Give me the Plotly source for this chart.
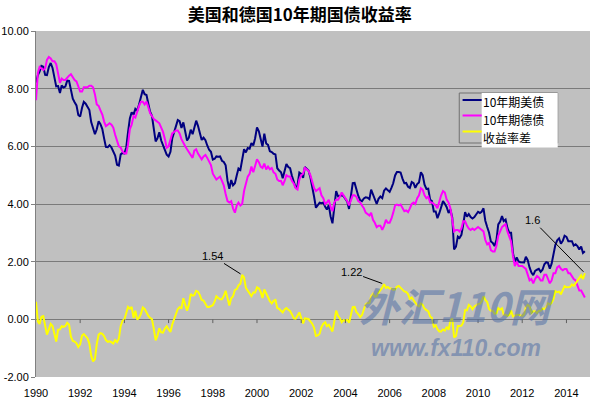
import pandas as pd
import plotly.graph_objects as go

# ---------------- data (monthly, Jan 1990 - Nov 2014) ----------------
start_month = "1990-01-01"

us_yield = [
    8.21, 8.47, 8.59, 8.79, 8.76, 8.48, 8.47, 8.75, 8.89, 8.72, 8.39, 8.08,
    8.09, 7.85, 8.11, 8.04, 8.07, 8.28, 8.27, 7.90, 7.65, 7.53, 7.42, 7.09,
    7.03, 7.34, 7.54, 7.48, 7.39, 7.26, 6.84, 6.59, 6.42, 6.59, 6.87, 6.77,
    6.60, 6.26, 5.98, 5.97, 6.04, 5.96, 5.81, 5.68, 5.36, 5.33, 5.72, 5.77,
    5.75, 5.97, 6.48, 6.97, 7.18, 7.10, 7.30, 7.24, 7.46, 7.74, 7.96, 7.81,
    7.78, 7.47, 7.20, 7.06, 6.63, 6.17, 6.28, 6.49, 6.20, 6.04, 5.93, 5.71,
    5.65, 5.81, 6.27, 6.51, 6.74, 6.91, 6.87, 6.64, 6.83, 6.53, 6.20, 6.30,
    6.58, 6.42, 6.69, 6.89, 6.71, 6.49, 6.22, 6.30, 6.21, 6.03, 5.88, 5.81,
    5.54, 5.57, 5.65, 5.64, 5.65, 5.50, 5.46, 5.34, 4.81, 4.53, 4.83, 4.65,
    4.72, 5.00, 5.23, 5.18, 5.54, 5.90, 5.79, 5.94, 5.92, 6.11, 6.03, 6.28,
    6.66, 6.52, 6.26, 5.99, 6.44, 6.10, 6.05, 5.83, 5.80, 5.74, 5.72, 5.24,
    5.16, 5.10, 4.89, 5.14, 5.39, 5.28, 5.24, 4.97, 4.73, 4.57, 4.65, 5.09,
    5.04, 4.91, 5.28, 5.21, 5.16, 4.93, 4.65, 4.26, 3.87, 3.94, 4.05, 4.03,
    4.05, 3.90, 3.81, 3.96, 3.57, 3.33, 3.98, 4.45, 4.27, 4.29, 4.30, 4.27,
    4.15, 4.08, 3.83, 4.35, 4.72, 4.73, 4.50, 4.28, 4.13, 4.10, 4.19, 4.23,
    4.22, 4.17, 4.50, 4.34, 4.14, 4.00, 4.18, 4.26, 4.20, 4.46, 4.54, 4.47,
    4.42, 4.57, 4.72, 4.99, 5.11, 5.11, 5.09, 4.88, 4.72, 4.73, 4.60, 4.56,
    4.76, 4.72, 4.56, 4.69, 4.75, 5.10, 5.00, 4.67, 4.52, 4.53, 4.15, 4.10,
    3.74, 3.74, 3.51, 3.68, 3.88, 4.10, 4.01, 3.89, 3.69, 3.81, 3.53, 2.42,
    2.52, 2.87, 2.82, 2.93, 3.29, 3.72, 3.56, 3.65, 3.55, 3.50, 3.55, 3.65,
    3.73, 3.69, 3.73, 3.85, 3.42, 3.20, 3.01, 2.70, 2.65, 2.54, 2.76, 3.29,
    3.39, 3.58, 3.41, 3.46, 3.17, 3.00, 3.00, 2.30, 1.98, 2.15, 2.01, 1.98,
    1.97, 1.97, 2.17, 2.05, 1.80, 1.62, 1.53, 1.68, 1.72, 1.75, 1.65, 1.72,
    1.91, 1.98, 1.96, 1.76, 1.93, 2.30, 2.58, 2.74, 2.81, 2.62, 2.72, 2.90,
    2.86, 2.71, 2.72, 2.71, 2.56, 2.60, 2.54, 2.42, 2.53, 2.30, 2.36,
]

de_yield = [
    7.60, 8.55, 8.75, 8.70, 8.65, 8.70, 9.00, 9.10, 9.05, 8.95, 8.95, 8.85,
    8.45, 8.20, 8.35, 8.30, 8.30, 8.40, 8.45, 8.50, 8.40, 8.30, 8.25, 8.05,
    7.90, 7.90, 8.05, 8.05, 8.05, 8.10, 8.10, 8.05, 7.80, 7.45, 7.40, 7.25,
    7.10, 6.85, 6.70, 6.75, 6.80, 6.75, 6.65, 6.40, 6.15, 6.00, 5.95, 5.82,
    5.75, 5.75, 6.05, 6.60, 6.75, 7.05, 7.00, 7.25, 7.40, 7.55, 7.55, 7.45,
    7.55, 7.35, 7.15, 7.05, 6.95, 6.90, 6.85, 6.80, 6.65, 6.50, 6.25, 5.95,
    6.00, 6.25, 6.45, 6.50, 6.55, 6.55, 6.45, 6.25, 6.10, 6.00, 5.90, 5.80,
    5.70, 5.60, 5.85, 5.90, 5.75, 5.65, 5.55, 5.65, 5.70, 5.60, 5.45, 5.35,
    5.05, 4.95, 4.85, 4.90, 4.95, 4.80, 4.65, 4.35, 4.10, 4.05, 4.10, 3.85,
    3.70, 3.95, 4.05, 3.95, 4.00, 4.45, 4.70, 4.95, 5.05, 5.30, 5.10, 5.35,
    5.55, 5.45, 5.30, 5.25, 5.40, 5.20, 5.30, 5.20, 5.25, 5.10, 5.05, 4.85,
    4.80, 4.80, 4.65, 4.80, 5.00, 4.95, 4.95, 4.80, 4.70, 4.55, 4.50, 4.85,
    5.00, 5.05, 5.25, 5.20, 5.15, 5.00, 4.80, 4.55, 4.45, 4.50, 4.55, 4.30,
    4.20, 4.00, 4.05, 4.15, 3.90, 3.75, 4.05, 4.15, 4.15, 4.25, 4.40, 4.30,
    4.20, 4.10, 3.95, 4.15, 4.30, 4.30, 4.25, 4.10, 4.05, 3.95, 3.85, 3.70,
    3.65, 3.60, 3.70, 3.45, 3.35, 3.20, 3.25, 3.25, 3.10, 3.24, 3.45, 3.35,
    3.35, 3.50, 3.70, 3.95, 3.98, 3.95, 3.98, 3.85, 3.75, 3.78, 3.72, 3.85,
    4.00, 4.05, 4.00, 4.20, 4.30, 4.55, 4.50, 4.30, 4.20, 4.25, 4.05, 4.05,
    4.00, 3.95, 3.85, 4.10, 4.30, 4.45, 4.40, 4.15, 4.05, 3.85, 3.50, 3.05,
    3.10, 3.10, 3.05, 3.15, 3.40, 3.40, 3.25, 3.15, 3.10, 3.15, 3.10, 3.15,
    3.20, 3.15, 3.10, 3.05, 2.75, 2.60, 2.65, 2.40, 2.35, 2.35, 2.55, 2.90,
    3.05, 3.20, 3.25, 3.30, 3.05, 2.85, 2.70, 2.20, 1.85, 2.00, 1.85, 1.85,
    1.85, 1.80, 1.75, 1.55, 1.35, 1.40, 1.25, 1.40, 1.50, 1.45, 1.35, 1.35,
    1.55, 1.55, 1.40, 1.25, 1.35, 1.60, 1.60, 1.80, 1.85, 1.75, 1.70, 1.75,
    1.75, 1.60, 1.60, 1.50, 1.40, 1.35, 1.20, 1.00, 1.00, 0.90, 0.76,
]

spread = [
    0.61, -0.08, -0.16, 0.09, 0.11, -0.22, -0.53, -0.35, -0.16, -0.23, -0.56, -0.77,
    -0.36, -0.35, -0.24, -0.26, -0.23, -0.12, -0.18, -0.60, -0.75, -0.77, -0.83, -0.96,
    -0.87, -0.56, -0.51, -0.57, -0.66, -0.84, -1.26, -1.46, -1.38, -0.86, -0.53, -0.48,
    -0.50, -0.59, -0.72, -0.78, -0.76, -0.79, -0.84, -0.72, -0.79, -0.67, -0.23, -0.05,
    0.00, 0.22, 0.43, 0.37, 0.43, 0.05, 0.30, -0.01, 0.06, 0.19, 0.41, 0.36,
    0.23, 0.12, 0.05, 0.01, -0.32, -0.73, -0.57, -0.31, -0.45, -0.46, -0.32, -0.24,
    -0.35, -0.44, -0.18, 0.01, 0.19, 0.36, 0.42, 0.39, 0.73, 0.53, 0.30, 0.50,
    0.88, 0.82, 0.84, 0.99, 0.96, 0.84, 0.67, 0.65, 0.51, 0.43, 0.43, 0.46,
    0.49, 0.62, 0.80, 0.74, 0.70, 0.70, 0.81, 0.99, 0.71, 0.48, 0.73, 0.80,
    1.02, 1.05, 1.18, 1.23, 1.54, 1.45, 1.09, 0.99, 0.87, 0.81, 0.93, 0.93,
    1.11, 1.07, 0.96, 0.74, 1.04, 0.90, 0.75, 0.63, 0.55, 0.64, 0.67, 0.39,
    0.36, 0.30, 0.24, 0.34, 0.39, 0.33, 0.29, 0.17, 0.03, 0.02, 0.15, 0.24,
    0.04, -0.14, 0.03, 0.01, 0.01, -0.07, -0.15, -0.29, -0.58, -0.56, -0.50, -0.27,
    -0.15, -0.10, -0.24, -0.19, -0.33, -0.42, -0.07, 0.30, 0.12, 0.04, -0.10, -0.03,
    -0.05, -0.02, -0.12, 0.20, 0.42, 0.43, 0.25, 0.18, 0.08, 0.15, 0.34, 0.53,
    0.57, 0.57, 0.80, 0.89, 0.79, 0.80, 0.93, 1.01, 1.10, 1.22, 1.09, 1.12,
    1.07, 1.07, 1.02, 1.04, 1.13, 1.16, 1.11, 1.03, 0.97, 0.95, 0.88, 0.71,
    0.76, 0.67, 0.56, 0.49, 0.45, 0.55, 0.50, 0.37, 0.32, 0.28, 0.10, 0.05,
    -0.26, -0.21, -0.34, -0.42, -0.42, -0.35, -0.39, -0.26, -0.36, -0.04, 0.03, -0.63,
    -0.58, -0.23, -0.23, -0.22, -0.11, 0.32, 0.31, 0.50, 0.45, 0.35, 0.45, 0.50,
    0.53, 0.54, 0.63, 0.80, 0.67, 0.60, 0.36, 0.30, 0.30, 0.19, 0.21, 0.39,
    0.34, 0.38, 0.16, 0.16, 0.12, 0.15, 0.30, 0.10, 0.13, 0.15, 0.16, 0.13,
    0.12, 0.17, 0.42, 0.50, 0.45, 0.22, 0.28, 0.28, 0.22, 0.30, 0.30, 0.37,
    0.36, 0.43, 0.56, 0.51, 0.58, 0.70, 0.98, 0.94, 0.96, 0.87, 1.02, 1.15,
    1.11, 1.11, 1.12, 1.21, 1.16, 1.25, 1.34, 1.42, 1.53, 1.40, 1.60,
]

series_names = ["10年期美债", "10年期德债", "收益率差"]
series_colors = ["#000080", "#FF00FF", "#FFFF00"]
y_ticks = [-2, 0, 2, 4, 6, 8, 10]
x_tick_years = list(range(1990, 2015, 2))
callout_months = ["1999-05-01", "2005-10-01", "2014-11-01"]

dates = pd.date_range(start_month, periods=len(us_yield), freq="MS")
spread_s = pd.Series(spread, index=dates)

fig = go.Figure()
for name, vals, col in zip(series_names, [us_yield, de_yield, spread], series_colors):
    fig.add_trace(go.Scatter(x=dates, y=vals, mode="lines", name=name,
                             line=dict(color=col, width=2), showlegend=False))

# watermark (drawn first so call-outs sit on top)
wm_color = "rgba(80,110,165,0.55)"
fig.add_annotation(xref="paper", yref="paper", x=0.76, y=0.208, xanchor="center", yanchor="middle",
                   showarrow=False, text="<b><i>外汇110网</i></b>",
                   font=dict(family="Noto Sans CJK SC", size=40, color=wm_color))
fig.add_annotation(xref="paper", yref="paper", x=0.758, y=0.084, xanchor="center", yanchor="middle",
                   showarrow=False, text="<b><i>www.fx110.com</i></b>",
                   font=dict(family="Liberation Sans, Arial", size=23, color=wm_color))

# value call-outs on the spread line
offsets = [(-30, -19), (-33, -12), (-52, -53)]
for m, (ax, ay) in zip(callout_months, offsets):
    v = spread_s[pd.Timestamp(m)]
    fig.add_annotation(x=pd.Timestamp(m), y=v, text=f"{v:g}", showarrow=True,
                       arrowhead=0, arrowwidth=1, arrowcolor="#000000",
                       ax=ax, ay=ay, standoff=2,
                       font=dict(family="Liberation Sans, Arial", size=11, color="#000000"))

# small tick marks on the zero line (category axis crosses at 0)
for yr in x_tick_years[1:]:
    fig.add_shape(type="line", xref="x", yref="y",
                  x0=pd.Timestamp(f"{yr}-01-01"), x1=pd.Timestamp(f"{yr}-01-01"),
                  y0=0, y1=-0.13, line=dict(color="#606060", width=1))

# legend box in the Excel style: framed key area + white label area
leg_x0, leg_key_x1, leg_x1 = 0.764, 0.8045, 0.9417
leg_y_top, leg_y_frame_bottom, leg_y_text_bottom = 0.8208, 0.6763, 0.6633
leg_line_x0 = 0.770
leg_rows_line = [0.8006, 0.7558, 0.7095]
leg_rows_text = [0.7948, 0.7428, 0.6908]
fig.add_shape(type="rect", xref="paper", yref="paper", x0=leg_x0, x1=leg_x1,
              y0=leg_y_frame_bottom, y1=leg_y_top, line=dict(color="#707070", width=1),
              fillcolor="rgba(0,0,0,0)", layer="above")
fig.add_shape(type="rect", xref="paper", yref="paper", x0=leg_key_x1, x1=leg_x1,
              y0=leg_y_text_bottom, y1=leg_y_top, line=dict(width=0),
              fillcolor="#FFFFFF", layer="above")
for name, col, yl, yt in zip(series_names, series_colors, leg_rows_line, leg_rows_text):
    fig.add_shape(type="line", xref="paper", yref="paper", x0=leg_line_x0, x1=leg_key_x1,
                  y0=yl, y1=yl, line=dict(color=col, width=2), layer="above")
    fig.add_annotation(xref="paper", yref="paper", x=leg_key_x1 + 0.001, y=yt,
                       xanchor="left", yanchor="middle", showarrow=False, text=name,
                       borderpad=0,
                       font=dict(family="Noto Sans CJK SC", size=12, color="#000000"))

fig.update_layout(
    width=608, height=405,
    margin=dict(l=36, r=18, t=31, b=28),
    paper_bgcolor="#FFFFFF",
    plot_bgcolor="#C0C0C0",
    title=dict(text="<b>美国和德国10年期国债收益率</b>", x=0.493, xanchor="center",
               y=0.962, yanchor="middle", yref="container",
               font=dict(family="Noto Sans CJK SC", size=17, color="#000000")),
    showlegend=False,
    xaxis=dict(type="date", range=["1990-01-01", "2015-01-25"], automargin=False,
               tickvals=[pd.Timestamp(f"{y}-01-01") for y in x_tick_years],
               ticktext=[str(y) for y in x_tick_years],
               showgrid=False, zeroline=False, showline=False, ticks="",
               ticklabelstandoff=8,
               tickfont=dict(family="Liberation Sans, Arial", size=11, color="#000000")),
    yaxis=dict(range=[-2, 10], tickvals=y_ticks, automargin=False,
               ticktext=[f"{v:.2f}" for v in y_ticks],
               showgrid=True, gridcolor="#7a7a7a", gridwidth=1,
               zeroline=True, zerolinecolor="#7a7a7a", zerolinewidth=1,
               showline=True, linecolor="#808080", linewidth=1,
               ticks="outside", ticklen=4, tickcolor="#808080",
               tickfont=dict(family="Liberation Sans, Arial", size=11, color="#000000")),
)

fig.write_html("out.html", config={"displayModeBar": False},
               post_script="document.body.style.margin='0';")
